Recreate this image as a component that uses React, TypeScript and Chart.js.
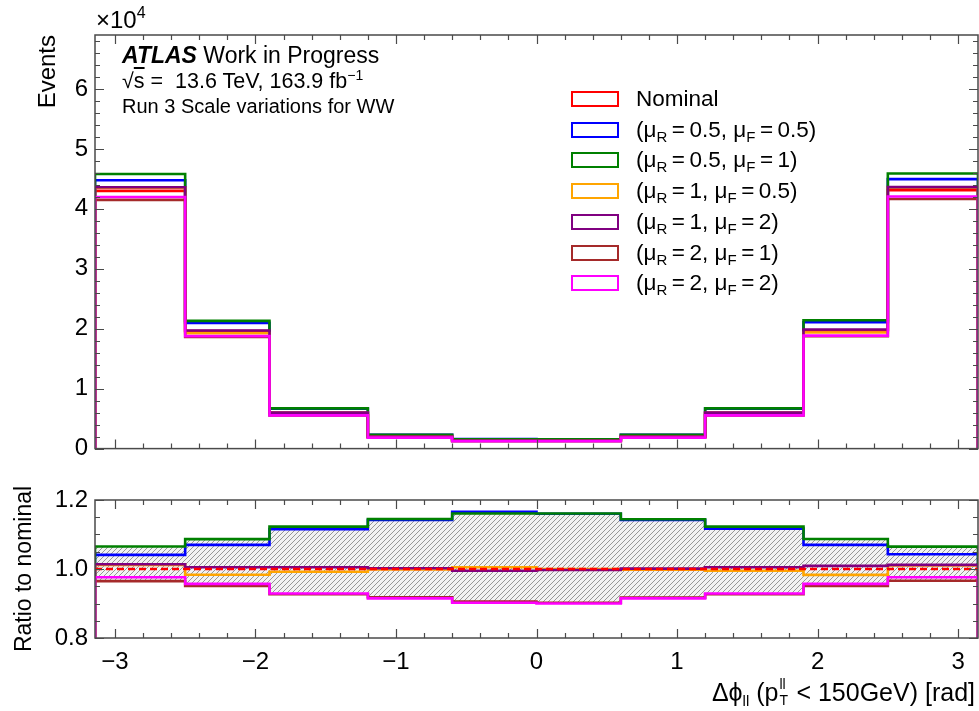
import React, { useEffect, useRef } from "react";
import { Chart, registerables } from "chart.js";
Chart.register(...registerables);

const FONT = '"Liberation Sans", Arial, Helvetica, sans-serif';
const FRAME = "#4a4a4a";

// Bin edges of the Δφ_ll histogram (10 variable-width bins from -π to π)
const binEdges = [-3.14159, -2.5, -1.9, -1.2, -0.6, 0, 0.6, 1.2, 1.9, 2.5, 3.14159];

// Events per bin
const nominal = [43000, 19600, 5970, 2000, 1350, 1350, 2000, 5970, 19700, 43100];
const muR05_muF05 = [44760, 20970, 6660, 2284, 1574, 1566, 2284, 6668, 21080, 44950];
const muR05_muF1 = [45800, 21300, 6704, 2290, 1567, 1567, 2288, 6704, 21410, 45900];
const muR1_muF05 = [43520, 19270, 5922, 1998, 1357, 1350, 1996, 5940, 19365, 43530];
const muR1_muF2 = [43600, 19700, 6000, 2004, 1343, 1346, 2002, 6000, 19877, 43617];
const muR2_muF1 = [41495, 18640, 5534, 1836, 1223, 1218, 1834, 5534, 18735, 41635];
const muR2_muF2 = [41968, 18757, 5546, 1830, 1218, 1215, 1830, 5546, 18853, 42066];

const seriesData = [nominal, muR05_muF05, muR05_muF1, muR1_muF05, muR1_muF2, muR2_muF1, muR2_muF2];
const seriesColors = ["#ff0000", "#0000ff", "#008000", "#ffa500", "#800080", "#a52a2a", "#ff00ff"];
const muRLabels = ["", "0.5", "0.5", "1", "1", "2", "2"];
const muFLabels = ["", "0.5", "1", "0.5", "2", "1", "2"];

const xTickValues = [-3, -2, -1, 0, 1, 2, 3];
const yTickValues = [0, 10000, 20000, 30000, 40000, 50000, 60000];
const ratioTickValues = [0.8, 1.0, 1.2];
const Y_MAX = 69000;
const RATIO_MIN = 0.8;
const RATIO_MAX = 1.2;

function range(a: number, b: number, step: number) {
  const out: number[] = [];
  for (let v = a; v <= b + step * 1e-6; v += step) out.push(Math.round(v * 1e6) / 1e6);
  return out;
}

function stepPoints(vals: number[], drop: boolean) {
  const pts: { x: number; y: number }[] = [];
  if (drop) pts.push({ x: binEdges[0], y: 0 });
  vals.forEach((v, i) => pts.push({ x: binEdges[i], y: v }));
  pts.push({ x: binEdges[vals.length], y: drop ? 0 : vals[vals.length - 1] });
  return pts;
}

function framePlugin(xMinor: number[], isXMajor: (v: number) => boolean, yMinor: number[], isYMajor: (v: number) => boolean) {
  return {
    id: "frameTicks",
    afterDraw(chart: any) {
      const { ctx, chartArea: a } = chart;
      const xs = chart.scales.x;
      const ys = chart.scales.y;
      ctx.save();
      ctx.strokeStyle = FRAME;
      ctx.lineWidth = 1.2;
      ctx.beginPath();
      for (const v of xMinor) {
        const p = Math.round(xs.getPixelForValue(v)) + 0.5;
        if (p < a.left || p > a.right) continue;
        const L = isXMajor(v) ? 9 : 5;
        ctx.moveTo(p, a.bottom);
        ctx.lineTo(p, a.bottom - L);
        ctx.moveTo(p, a.top);
        ctx.lineTo(p, a.top + L);
      }
      for (const v of yMinor) {
        const p = Math.round(ys.getPixelForValue(v)) + 0.5;
        if (p < a.top - 1 || p > a.bottom + 1) continue;
        const L = isYMajor(v) ? 9 : 5;
        ctx.moveTo(a.left, p);
        ctx.lineTo(a.left + L, p);
        ctx.moveTo(a.right, p);
        ctx.lineTo(a.right - L, p);
      }
      ctx.stroke();
      ctx.lineWidth = 1.5;
      ctx.strokeRect(a.left, a.top, a.right - a.left, a.bottom - a.top);
      ctx.restore();
    },
  };
}

function makeHatch(ctx: CanvasRenderingContext2D) {
  const s = 5;
  const pc = document.createElement("canvas");
  pc.width = s;
  pc.height = s;
  const g = pc.getContext("2d")!;
  g.fillStyle = "#f2f2f2";
  g.fillRect(0, 0, s, s);
  g.strokeStyle = "#8c8c8c";
  g.lineWidth = 0.9;
  g.beginPath();
  g.moveTo(-1, s + 1);
  g.lineTo(s + 1, -1);
  g.moveTo(-1, 1);
  g.lineTo(1, -1);
  g.moveTo(s - 1, s + 1);
  g.lineTo(s + 1, s - 1);
  g.stroke();
  return ctx.createPattern(pc, "repeat")!;
}

const minus = (v: number) => (v < 0 ? "\u2212" + Math.abs(v) : String(v));

export default function App() {
  const topRef = useRef<HTMLCanvasElement>(null);
  const botRef = useRef<HTMLCanvasElement>(null);

  useEffect(() => {
    const xMinor = range(-3, 3, 0.2);
    const isXMajor = (v: number) => Math.abs(v - Math.round(v)) < 1e-6;

    // ---------- top panel ----------
    const topDatasets = seriesData.map((vals, i) => ({
      data: stepPoints(vals, true),
      borderColor: seriesColors[i],
      borderWidth: 2.6,
      pointRadius: 0,
      stepped: "before" as const,
      fill: false,
      borderJoinStyle: "miter" as const,
      order: 10 - i,
    }));

    const top = new Chart(topRef.current!, {
      type: "line",
      data: { datasets: topDatasets as any },
      options: {
        animation: false,
        responsive: false,
        events: [],
        layout: { padding: { top: 35, right: 1, left: 0, bottom: 0 } },
        plugins: { legend: { display: false }, tooltip: { enabled: false } },
        scales: {
          x: {
            type: "linear",
            min: binEdges[0],
            max: binEdges[binEdges.length - 1],
            grid: { display: false, drawTicks: false },
            border: { display: false },
            ticks: { display: false },
            afterFit: (s: any) => {
              s.height = 18;
            },
          },
          y: {
            type: "linear",
            min: 0,
            max: Y_MAX,
            grid: { display: false, drawTicks: false },
            border: { display: false },
            afterBuildTicks: (s: any) => {
              s.ticks = yTickValues.map((v) => ({ value: v }));
            },
            ticks: {
              callback: (v: any) => String(Number(v) / 10000),
              font: { family: FONT, size: 24 },
              color: "#000",
              padding: 7,
            },
            title: {
              display: true,
              text: "Events",
              align: "end",
              color: "#000",
              font: { family: FONT, size: 24 },
              padding: { top: 34, bottom: 0 },
            },
            afterFit: (s: any) => {
              s.width = 95;
            },
          },
        },
      },
      plugins: [framePlugin(xMinor, isXMajor, range(0, 68000, 2000), (v) => v % 10000 === 0)],
    });

    // ---------- ratio panel ----------
    const ctx2 = botRef.current!.getContext("2d")!;
    const hatch = makeHatch(ctx2);
    const ratios = seriesData.map((vals) => vals.map((v, i) => v / nominal[i]));
    const ratioVariations = ratios.slice(1);
    const bandLow = nominal.map((_, i) => Math.min(...ratioVariations.map((r) => r[i])));
    const bandHigh = nominal.map((_, i) => Math.max(...ratioVariations.map((r) => r[i])));

    const ratioDatasets: any[] = [
      {
        data: stepPoints(bandLow, false),
        borderWidth: 0,
        borderColor: "rgba(0,0,0,0)",
        pointRadius: 0,
        stepped: "before",
        fill: false,
        order: 31,
      },
      {
        data: stepPoints(bandHigh, false),
        borderWidth: 0,
        borderColor: "rgba(0,0,0,0)",
        backgroundColor: hatch,
        pointRadius: 0,
        stepped: "before",
        fill: "-1",
        order: 30,
      },
    ];
    ratios.forEach((r, i) => {
      if (i === 0) return;
      ratioDatasets.push({
        data: stepPoints(r, true),
        borderColor: seriesColors[i],
        borderWidth: 2.6,
        pointRadius: 0,
        stepped: "before",
        fill: false,
        borderJoinStyle: "miter",
        order: 10 - i,
      });
    });
    ratioDatasets.push({
      data: stepPoints(ratios[0], false),
      borderColor: seriesColors[0],
      borderWidth: 2.4,
      borderDash: [7, 4],
      pointRadius: 0,
      stepped: "before",
      fill: false,
      order: 0,
    });

    const bot = new Chart(botRef.current!, {
      type: "line",
      data: { datasets: ratioDatasets },
      options: {
        animation: false,
        responsive: false,
        events: [],
        layout: { padding: { top: 30, right: 1, left: 0, bottom: 0 } },
        plugins: { legend: { display: false }, tooltip: { enabled: false } },
        scales: {
          x: {
            type: "linear",
            min: binEdges[0],
            max: binEdges[binEdges.length - 1],
            grid: { display: false, drawTicks: false },
            border: { display: false },
            afterBuildTicks: (s: any) => {
              s.ticks = xTickValues.map((v) => ({ value: v }));
            },
            ticks: {
              callback: (v: any) => minus(Number(v)),
              font: { family: FONT, size: 24 },
              color: "#000",
              padding: 10,
              maxRotation: 0,
              autoSkip: false,
            },
            afterFit: (s: any) => {
              s.height = 73;
            },
          },
          y: {
            type: "linear",
            min: RATIO_MIN,
            max: RATIO_MAX,
            grid: { display: false, drawTicks: false },
            border: { display: false },
            afterBuildTicks: (s: any) => {
              s.ticks = ratioTickValues.map((v) => ({ value: v }));
            },
            ticks: {
              callback: (v: any) => Number(v).toFixed(1),
              font: { family: FONT, size: 24 },
              color: "#000",
              padding: 7,
            },
            title: {
              display: true,
              text: "Ratio to nominal",
              align: "center",
              color: "#000",
              font: { family: FONT, size: 23 },
              padding: { top: 11, bottom: 0 },
            },
            afterFit: (s: any) => {
              s.width = 95;
            },
          },
        },
      },
      plugins: [
        framePlugin(xMinor, isXMajor, range(0.8, 1.2, 0.05), (v) => Math.abs(v * 5 - Math.round(v * 5)) < 1e-6),
      ],
    });

    return () => {
      top.destroy();
      bot.destroy();
    };
  }, []);

  const sub = (t: string, size = 15, dy = 5) => (
    <span style={{ fontSize: size, position: "relative", top: dy, lineHeight: 0 }}>{t}</span>
  );

  return (
    <div
      style={{
        position: "absolute",
        left: 0,
        top: 0,
        width: 979,
        height: 711,
        fontFamily: FONT,
        color: "#000",
        background: "#fff",
        overflow: "hidden",
      }}
    >
      <canvas ref={topRef} width={979} height={470} style={{ position: "absolute", left: 0, top: 0, width: 979, height: 470 }} />
      <canvas ref={botRef} width={979} height={241} style={{ position: "absolute", left: 0, top: 470, width: 979, height: 241 }} />

      {/* offset text */}
      <div style={{ position: "absolute", left: 96, top: 8, fontSize: 24, lineHeight: "24px", whiteSpace: "nowrap" }}>
        ×10<span style={{ fontSize: 16, position: "relative", top: -10, lineHeight: 0 }}>4</span>
      </div>

      {/* ATLAS label */}
      <div style={{ position: "absolute", left: 122, top: 43, fontSize: 23, lineHeight: "25.5px", whiteSpace: "nowrap" }}>
        <div>
          <b>
            <i>ATLAS</i>
          </b>{" "}
          Work in Progress
        </div>
        <div style={{ fontSize: 21.5 }}>
          √<span style={{ textDecoration: "overline" }}>s</span> = &nbsp;13.6 TeV, 163.9 fb
          <span style={{ fontSize: 14, position: "relative", top: -8, lineHeight: 0 }}>−1</span>
        </div>
        <div style={{ fontSize: 20 }}>Run 3 Scale variations for WW</div>
      </div>

      {/* legend */}
      {seriesColors.map((c, i) => (
        <div
          key={i}
          style={{
            position: "absolute",
            left: 571,
            top: 84 + i * 30.7,
            height: 30,
            display: "flex",
            alignItems: "center",
            fontSize: 22.5,
            whiteSpace: "nowrap",
          }}
        >
          <div style={{ width: 48, height: 16, border: `2px solid ${c}`, boxSizing: "border-box", marginRight: 17 }} />
          {i === 0 ? (
            <span>Nominal</span>
          ) : (
            <span>
              (μ{sub("R")}{"\u2009"}={"\u2009"}
              {muRLabels[i]}, μ{sub("F")}{"\u2009"}={"\u2009"}
              {muFLabels[i]})
            </span>
          )}
        </div>
      ))}

      {/* x-axis title */}
      <div style={{ position: "absolute", right: 4, top: 678, fontSize: 25, lineHeight: "28px", whiteSpace: "nowrap" }}>
        Δϕ{sub("ll", 15, 5)} (p
        <span style={{ display: "inline-block", position: "relative", width: 11, height: 10 }}>
          <span style={{ position: "absolute", left: 1, top: -14, fontSize: 14, lineHeight: "14px" }}>ll</span>
          <span style={{ position: "absolute", left: 1, top: 2, fontSize: 14, lineHeight: "14px" }}>T</span>
        </span>{" "}
        &lt; 150GeV) [rad]
      </div>
    </div>
  );
}
